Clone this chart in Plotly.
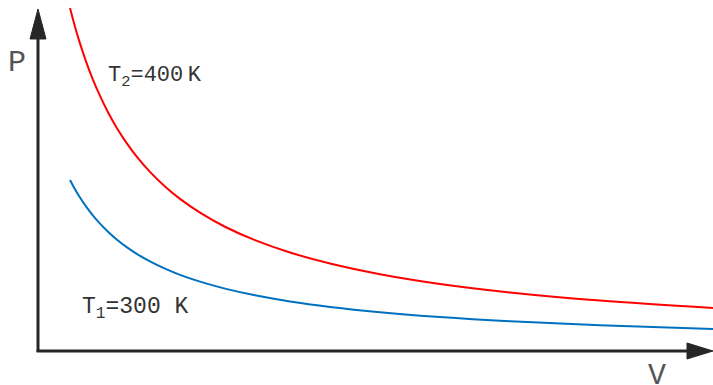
import plotly.graph_objects as go

# Volume values (arbitrary units) at which the isotherms were read
V = [0.474, 0.548, 0.622, 0.711, 0.815, 0.919, 1.037, 1.170, 1.319, 1.481, 1.659, 1.881,
     2.104, 2.400, 2.770, 3.215, 3.733, 4.326, 5.067, 5.956, 6.993, 8.326, 10.0]
# Pressure (arbitrary units), T2 = 400 K isotherm
P_T2 = [9.772, 9.240, 8.763, 8.253, 7.727, 7.267, 6.803, 6.348, 5.909, 5.494, 5.103, 4.687,
        4.334, 3.941, 3.540, 3.158, 2.806, 2.491, 2.187, 1.909, 1.667, 1.435, 1.226]
# T1 = 300 K isotherm
P_T1 = [4.872, 4.608, 4.371, 4.118, 3.857, 3.627, 3.397, 3.171, 2.953, 2.747, 2.553, 2.346,
        2.170, 1.976, 1.777, 1.587, 1.411, 1.256, 1.105, 0.967, 0.846, 0.730, 0.627]

label_T2 = "T<sub>2</sub>=400\u2009K"
label_T1 = "T<sub>1</sub>=300 K"

FONT = "Liberation Mono, Courier New, monospace"
AX = "#262626"

fig = go.Figure()
fig.add_trace(go.Scatter(x=V, y=P_T2, mode="lines", line=dict(color="#ff0000", width=2, shape="spline"),
                         hoverinfo="skip", showlegend=False))
fig.add_trace(go.Scatter(x=V, y=P_T1, mode="lines", line=dict(color="#0070c0", width=2, shape="spline"),
                         hoverinfo="skip", showlegend=False))

xr = [-0.563, 10.0]
yr = [-0.969, 10.0]

shapes = [
    dict(type="line", x0=0, x1=0, y0=-0.03, y1=8.95, line=dict(color=AX, width=3)),
    dict(type="path", path="M -0.1185,8.889 L 0,9.744 L 0.1185,8.889 Z", fillcolor=AX, line=dict(color=AX, width=1)),
    dict(type="line", x0=-0.02, x1=9.65, y0=0, y1=0, line=dict(color=AX, width=3)),
    dict(type="path", path="M 9.615,0.228 L 10.0,0 L 9.615,-0.228 Z", fillcolor=AX, line=dict(color=AX, width=1)),
]

annotations = [
    dict(x=-0.311, y=8.2, text="P", showarrow=False, xanchor="center", yanchor="middle",
         font=dict(family=FONT, size=30, color="#555555")),
    dict(x=9.17, y=-0.72, text="V", showarrow=False, xanchor="center", yanchor="middle",
         font=dict(family=FONT, size=30, color="#555555")),
    dict(x=1.0, y=7.8, text=label_T2, showarrow=False, xanchor="left", yanchor="middle",
         font=dict(family=FONT, size=22, color="#333333")),
    dict(x=0.62, y=1.2, text=label_T1, showarrow=False, xanchor="left", yanchor="middle",
         font=dict(family=FONT, size=23, color="#333333")),
]

fig.update_layout(
    width=713, height=385,
    margin=dict(l=0, r=0, t=0, b=0),
    paper_bgcolor="white", plot_bgcolor="white",
    xaxis=dict(range=xr, visible=False, fixedrange=True),
    yaxis=dict(range=yr, visible=False, fixedrange=True),
    shapes=shapes, annotations=annotations,
)

fig.write_html("out.html", config={"displayModeBar": False},
               post_script="document.body.style.margin='0';document.body.style.overflow='hidden';")
